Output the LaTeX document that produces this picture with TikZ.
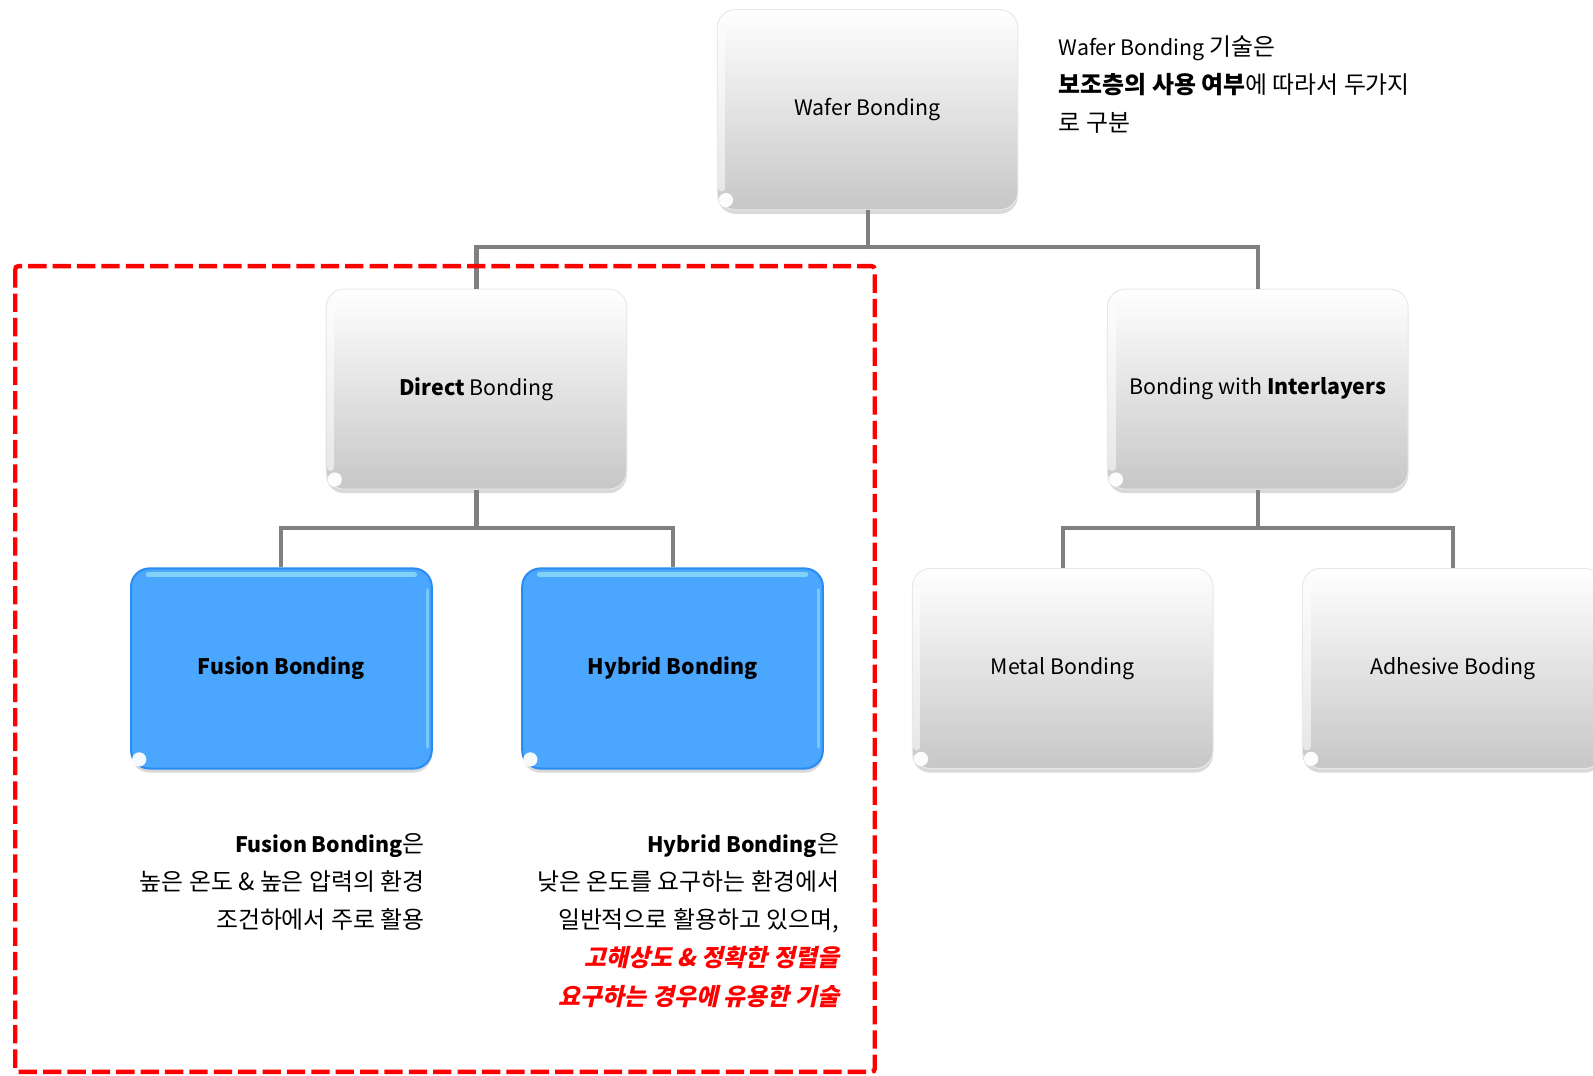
\documentclass[tikz,border=0pt]{standalone}
\usepackage{fontspec}
\setmainfont{Noto Sans CJK KR}
\usetikzlibrary{shadows}
\definecolor{boxblue}{HTML}{4BA7FE}
\definecolor{blueedge}{HTML}{2A8CF2}
\definecolor{conngray}{HTML}{808080}
\definecolor{redline}{HTML}{FF0000}
\newcommand\K[1]{{\fontsize{23.5}{37.5}\selectfont #1}}
\newcommand\RedK[1]{{\color{redline}\bfseries\addfontfeature{FakeSlant=0.22}\K{#1}}}
\tikzset{
  basebox/.style={rounded corners=18pt, minimum width=296pt, minimum height=197pt,
    inner sep=0pt, align=center, font=\fontsize{21}{25}\selectfont,
    drop shadow={shadow xshift=0pt, shadow yshift=-4pt, opacity=0.3, fill=gray}},
  graybox/.style={basebox, top color=white, bottom color=black!22, draw=black!9, line width=1pt},
  bluebox/.style={basebox, fill=boxblue, draw=blueedge, line width=2pt},
  conn/.style={draw=conngray, line width=4pt},
  note/.style={font=\fontsize{21}{37.5}\selectfont, inner sep=0pt},
  blob/.style={fill=white, opacity=0.95},
}
\begin{document}
\begin{tikzpicture}[x=1pt, y=-1pt]
\useasboundingbox (0,0) rectangle (1568,1059);
% boxes
\node[graybox] (wb) at (854,108) {Wafer Bonding};
\node[graybox] (db) at (469,383) {\textbf{Direct} Bonding};
\node[graybox] (bi) at (1238,383) {Bonding with \textbf{Interlayers}};
\node[bluebox] (fb) at (277,658) {\textbf{Fusion Bonding}};
\node[bluebox] (hb) at (662,658) {\textbf{Hybrid Bonding}};
\node[graybox] (mb) at (1046,658) {Metal Bonding};
\node[graybox] (ab) at (1430,658) {Adhesive Boding};
% gloss highlights on gray boxes
\foreach \n in {wb,db,bi,mb,ab}{
  \draw[white, line width=7pt, line cap=round, opacity=0.55]
    ([xshift=5pt,yshift=-22pt]\n.north west) -- ([xshift=5pt,yshift=22pt]\n.south west);
  \fill[blob] ([xshift=9pt,yshift=10pt]\n.south west) circle[radius=7pt];
}
% highlights on blue boxes
\foreach \n in {fb,hb}{
  \draw[white!55!cyan, line width=5pt, line cap=round, opacity=0.85]
    ([xshift=18pt,yshift=-7pt]\n.north west) -- ([xshift=-18pt,yshift=-7pt]\n.north east);
  \draw[white!60!cyan, line width=3pt, line cap=round, opacity=0.6]
    ([xshift=-5pt,yshift=-22pt]\n.north east) -- ([xshift=-5pt,yshift=22pt]\n.south east);
  \fill[blob] ([xshift=9pt,yshift=10pt]\n.south west) circle[radius=7pt];
}
% connectors
\draw[conn] (wb.south) -- (wb.south |- 0,243) -| (db.north);
\draw[conn] (wb.south |- 0,243) -| (bi.north);
\draw[conn] (db.south) -- (db.south |- 0,520) -| (fb.north);
\draw[conn] (db.south |- 0,520) -| (hb.north);
\draw[conn] (bi.south) -- (bi.south |- 0,520) -| (mb.north);
\draw[conn] (bi.south |- 0,520) -| (ab.north);
% red dashed frame
\draw[redline, line width=4.4pt, dash pattern=on 18pt off 6pt, rounded corners=3pt]
  (15,262) rectangle (861,1055);
% notes
\node[note, anchor=west, align=left] (n1) at (1042,83)
  {Wafer Bonding \K{기술은}\\\textbf{\K{보조층의 사용 여부}}\K{에 따라서 두가지}\\\K{로 구분}};
\node[note, anchor=east, align=right] (n2) at (418,868)
  {\textbf{Fusion Bonding}\K{은}\\\K{높은 온도 \& 높은 압력의 환경}\\\K{조건하에서 주로 활용}};
\node[note, anchor=east, align=right] (n3) at (826,906)
  {\textbf{Hybrid Bonding}\K{은}\\\K{낮은 온도를 요구하는 환경에서}\\\K{일반적으로 활용하고 있으며,}\\
   \RedK{고해상도 \& 정확한 정렬을}\\
   \RedK{요구하는 경우에 유용한 기술}};
\end{tikzpicture}
\end{document}
